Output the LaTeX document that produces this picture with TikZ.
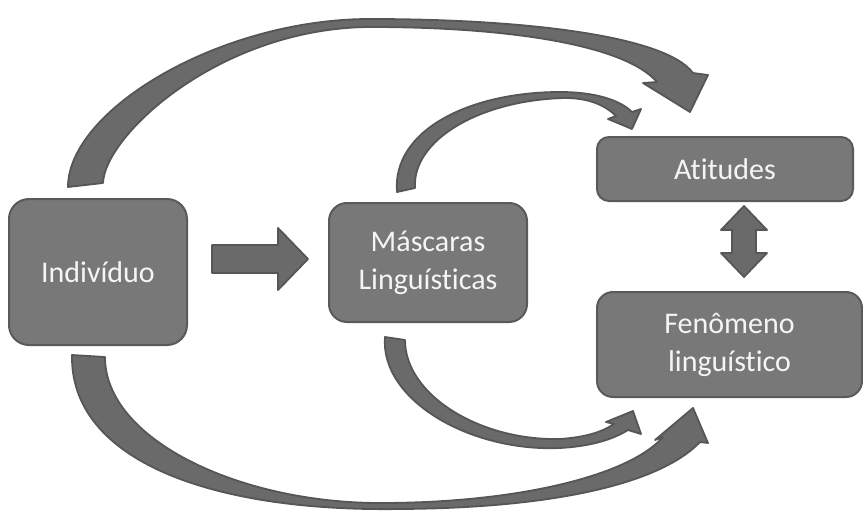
\documentclass[tikz,border=0pt]{standalone}
\usepackage{fontspec}
\setmainfont{Carlito}[RawFeature={-liga;-clig;-dlig}]
\definecolor{boxfill}{RGB}{120,120,120}
\definecolor{boxline}{RGB}{90,90,90}
\definecolor{arrfill}{RGB}{106,106,106}
\definecolor{arrline}{RGB}{86,86,86}
\definecolor{txt}{RGB}{245,245,245}
\begin{document}
\begin{tikzpicture}[x=1pt,y=-1pt,
  blk/.style={draw=boxline, fill=boxfill, line width=2pt, rounded corners=#1,
    text=txt, font=\fontsize{30}{38}\selectfont, align=center, inner sep=0pt},
  blk/.default=16pt,
  blockarrow/.style={fill=arrfill, draw=arrline, line width=1.8pt, line join=round}]
\useasboundingbox (0,0) rectangle (863,511);

% boxes
\node[blk=20pt, minimum width=178pt, minimum height=146pt] (ind) at (98,272) {Indivíduo};
\node[blk=18pt, minimum width=198pt, minimum height=119pt] (mask) at (428,262.5) {Máscaras\\Linguísticas};
\node[blk=12pt, minimum width=256pt, minimum height=64pt] (att) at (725,169) {Atitudes};
\node[blk=16pt, minimum width=265pt, minimum height=105pt] (fen) at (729.5,344.5) {Fenômeno\\linguístico};

% straight arrow Indivíduo -> Máscaras
\draw[blockarrow] (212,245) -- (278,245) -- (278,228) -- (308,259) -- (278,290)
  -- (278,273) -- (212,273) -- cycle;

% double arrow Atitudes <-> Fenômeno
\draw[blockarrow] (744,206) -- (767,230) -- (756,230) -- (756,253) -- (767,253)
  -- (744,277) -- (721,253) -- (732,253) -- (732,230) -- (721,230) -- cycle;

% big upper curved arrow Indivíduo -> Atitudes
\draw[blockarrow] (68,187) .. controls (68,110) and (220,19) .. (370,19)
  .. controls (520,19) and (665,35) .. (693,73) -- (708,75) -- (690,112)
  -- (643,83) -- (657,82) .. controls (625,45) and (510,27) .. (370,27)
  .. controls (220,28) and (105,135) .. (103,183) -- cycle;

% small upper curved arrow Máscaras -> Atitudes
\draw[blockarrow] (397,192) .. controls (392,130) and (470,92) .. (560,92)
  .. controls (595,92) and (620,100) .. (632,112) -- (641,109) -- (632,129)
  -- (608,119) -- (616,116) .. controls (606,106) and (590,98) .. (565,98)
  .. controls (480,100) and (412,140) .. (415,188) -- cycle;

% small lower curved arrow Máscaras -> Fenômeno
\draw[blockarrow] (385,337) .. controls (380,400) and (470,452) .. (560,448)
  .. controls (595,446) and (615,438) .. (628,430) -- (641,434) -- (633,411)
  -- (606,422) -- (614,424) .. controls (605,430) and (590,437) .. (560,439)
  .. controls (480,441) and (405,395) .. (405,340) -- cycle;

% big lower curved arrow Indivíduo -> Fenômeno
\draw[blockarrow] (72,355) .. controls (70,460) and (210,512) .. (400,509)
  .. controls (560,508) and (662,482) .. (700,442) -- (708,443) -- (693,408)
  -- (655,440) -- (663,437) .. controls (630,475) and (520,503) .. (380,503)
  .. controls (240,503) and (105,440) .. (105,357) -- cycle;
\end{tikzpicture}
\end{document}
